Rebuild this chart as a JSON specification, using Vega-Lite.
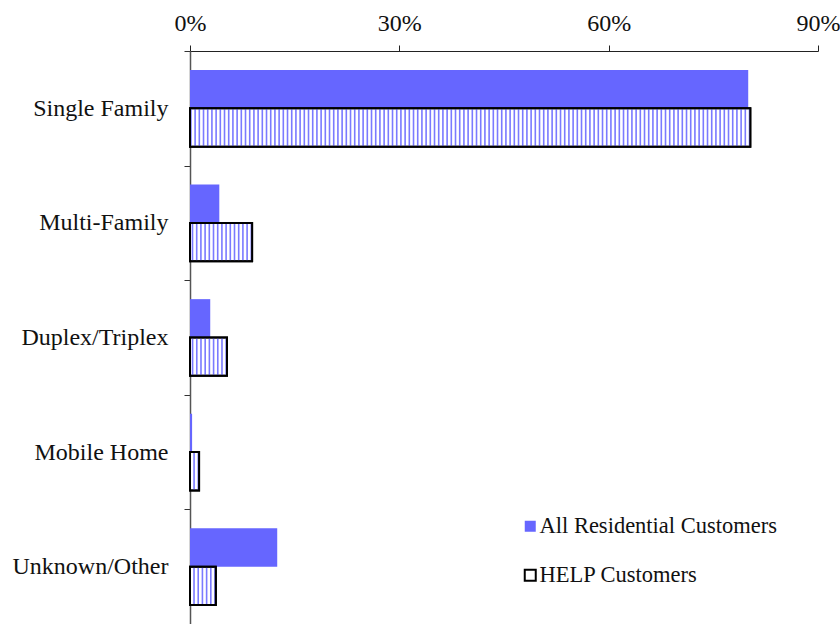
{
  "$schema": "https://vega.github.io/schema/vega-lite/v6.json",
  "width": 628,
  "height": 573,
  "autosize": {"type": "none"},
  "padding": {"left": 190, "top": 51, "right": 22, "bottom": 0},
  "background": "white",
  "config": {
    "view": {"stroke": null},
    "font": "Liberation Serif"
  },
  "data": {
    "values": [
      {"type": "Single Family", "group": "All Residential Customers", "share": 0.800},
      {"type": "Single Family", "group": "HELP Customers", "share": 0.803},
      {"type": "Multi-Family", "group": "All Residential Customers", "share": 0.042},
      {"type": "Multi-Family", "group": "HELP Customers", "share": 0.089},
      {"type": "Duplex/Triplex", "group": "All Residential Customers", "share": 0.029},
      {"type": "Duplex/Triplex", "group": "HELP Customers", "share": 0.053},
      {"type": "Mobile Home", "group": "All Residential Customers", "share": 0.003},
      {"type": "Mobile Home", "group": "HELP Customers", "share": 0.013},
      {"type": "Unknown/Other", "group": "All Residential Customers", "share": 0.125},
      {"type": "Unknown/Other", "group": "HELP Customers", "share": 0.037}
    ]
  },
  "encoding": {
    "y": {
      "field": "type",
      "type": "nominal",
      "sort": null,
      "scale": {"paddingInner": 0, "paddingOuter": 0},
      "axis": {
        "title": null,
        "orient": "left",
        "tickBand": "extent",
        "tickSize": 6,
        "tickColor": "#333",
        "domainColor": "#555",
        "domainWidth": 1.5,
        "labelFont": "Liberation Serif",
        "labelFontSize": 24,
        "labelColor": "#111",
        "labelPadding": 16
      }
    },
    "yOffset": {
      "field": "group",
      "type": "nominal",
      "scale": {
        "domain": ["All Residential Customers", "HELP Customers"],
        "paddingInner": 0,
        "paddingOuter": 0.494
      }
    }
  },
  "layer": [
    {
      "mark": {"type": "bar", "strokeWidth": 2},
      "encoding": {
        "x": {
          "field": "share",
          "type": "quantitative",
          "scale": {"domain": [0, 0.9], "nice": false},
          "axis": {
            "title": null,
            "orient": "top",
            "values": [0, 0.3, 0.6, 0.9],
            "format": ".0%",
            "grid": false,
            "tickSize": 6,
            "tickColor": "#222",
            "domainColor": "#222",
            "domainWidth": 1.2,
            "labelFont": "Liberation Serif",
            "labelFontSize": 24,
            "labelColor": "#111",
            "labelPadding": 10,
            "labelFlush": false
          }
        },
        "color": {
          "field": "group",
          "type": "nominal",
          "scale": {
            "domain": ["All Residential Customers", "HELP Customers"],
            "range": ["#6666ff", "#ffffff"]
          },
          "legend": {
            "title": null,
            "orient": "none",
            "legendX": 329,
            "legendY": 464,
            "symbolType": "square",
            "symbolSize": 121,
            "symbolStrokeWidth": 2,
            "labelFont": "Liberation Serif",
            "labelFontSize": 22.5,
            "labelColor": "#111",
            "labelOffset": -2,
            "labelLimit": 400,
            "rowPadding": 26
          }
        },
        "stroke": {
          "field": "group",
          "type": "nominal",
          "scale": {
            "domain": ["All Residential Customers", "HELP Customers"],
            "range": ["transparent", "#000000"]
          },
          "legend": {
            "title": null,
            "orient": "none",
            "legendX": 329,
            "legendY": 464,
            "symbolType": "square",
            "symbolSize": 121,
            "symbolStrokeWidth": 2,
            "labelFont": "Liberation Serif",
            "labelFontSize": 22.5,
            "labelColor": "#111",
            "labelOffset": -2,
            "labelLimit": 400,
            "rowPadding": 26
          }
        }
      }
    },
    {
      "transform": [{"filter": "datum.group === 'HELP Customers'"}],
      "mark": {
        "type": "rule",
        "strokeWidth": 37,
        "color": "#7a7aff",
        "strokeDash": [1.6, 2.6],
        "strokeCap": "butt"
      },
      "encoding": {
        "x": {"field": "share", "type": "quantitative"},
        "x2": {"datum": 0}
      }
    },
    {
      "transform": [{"filter": "datum.group === 'HELP Customers'"}],
      "mark": {"type": "bar", "fill": "transparent", "stroke": "#000000", "strokeWidth": 2},
      "encoding": {
        "x": {"field": "share", "type": "quantitative"}
      }
    }
  ]
}
